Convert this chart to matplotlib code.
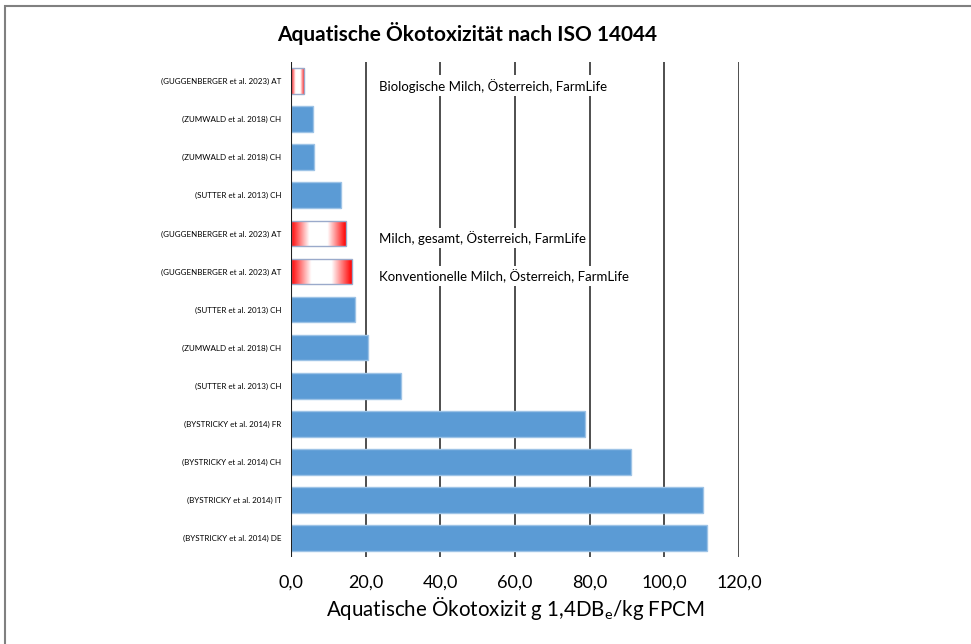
import matplotlib
matplotlib.use("Agg")
import matplotlib.pyplot as plt
import numpy as np
from matplotlib.colors import LinearSegmentedColormap
from matplotlib.patches import Rectangle

plt.rcParams['font.family'] = ['Lato', 'DejaVu Sans']

labels = [
    "(GUGGENBERGER et al. 2023) AT",
    "(ZUMWALD et al. 2018) CH",
    "(ZUMWALD et al. 2018) CH",
    "(SUTTER et al. 2013) CH",
    "(GUGGENBERGER et al. 2023) AT",
    "(GUGGENBERGER et al. 2023) AT",
    "(SUTTER et al. 2013) CH",
    "(ZUMWALD et al. 2018) CH",
    "(SUTTER et al. 2013) CH",
    "(BYSTRICKY et al. 2014) FR",
    "(BYSTRICKY et al. 2014) CH",
    "(BYSTRICKY et al. 2014) IT",
    "(BYSTRICKY et al. 2014) DE",
]
values = [3.5, 5.9, 6.2, 13.5, 14.7, 16.3, 17.1, 20.7, 29.5, 78.8, 91.0, 110.3, 111.3]
highlight = [True, False, False, False, True, True, False, False, False, False, False, False, False]
annotations = [
    (0, "Biologische Milch, Österreich, FarmLife"),
    (4, "Milch, gesamt, Österreich, FarmLife"),
    (5, "Konventionelle Milch, Österreich, FarmLife"),
]
xticks = [0, 20, 40, 60, 80, 100, 120]
xticklabels = ["0,0", "20,0", "40,0", "60,0", "80,0", "100,0", "120,0"]

fig = plt.figure(figsize=(9.71, 6.44), dpi=100)
ax = fig.add_axes([0.2997, 0.135, 0.4614, 0.7687])

# figure frame (left/top visible)
fig.patches.append(Rectangle((5/971, -0.1), 1.2, 1.1 - 6/644,
                             transform=fig.transFigure, fill=False,
                             edgecolor='#808080', lw=1.5))

n = len(values)
ypos = np.arange(n)
bh = 0.675
cmap = LinearSegmentedColormap.from_list('rw', ['#FF0000', '#FFFFFF', '#FFFFFF', '#FF0000'])
grad = np.linspace(0, 1, 256).reshape(1, -1)
for y, v, h in zip(ypos, values, highlight):
    if h:
        r = Rectangle((0, y - bh/2), v, bh, facecolor='none', edgecolor='#9AAACB', lw=1.0, zorder=3)
        ax.add_patch(r)
        im = ax.imshow(grad, cmap=cmap, aspect='auto',
                       extent=(0, v, y + bh/2, y - bh/2), zorder=2)
        im.set_clip_path(r)
    else:
        ax.barh(y, v, height=bh, color='#5B9BD5', edgecolor='#9DC3E6', lw=1.0, zorder=2)

ax.set_xlim(0, 120)
ax.set_ylim(n - 0.5, -0.5)
ax.set_aspect('auto')

for xv in xticks[1:]:
    ax.axvline(xv, color='#404040', lw=1.3, zorder=1)
ax.axvline(0, color='#202020', lw=1.5, zorder=4)

for s in ax.spines.values():
    s.set_visible(False)
ax.set_xticks(xticks)
ax.set_xticklabels(xticklabels, fontsize=13)
ax.set_yticks(ypos)
ax.set_yticklabels(labels, fontsize=5.8)
ax.tick_params(axis='both', length=0)
ax.tick_params(axis='x', pad=13)
ax.tick_params(axis='y', pad=7)

ax.set_xlabel("Aquatische Ökotoxizit g 1,4DB$_\\mathregular{e}$/kg FPCM", fontsize=14.8, labelpad=3)

for idx, txt in annotations:
    ax.text(23.5, idx + 0.12, txt, fontsize=9.5, va='center', ha='left', zorder=5,
            bbox=dict(facecolor='white', edgecolor='none', pad=2.5))

fig.text(0.481, 0.948, "Aquatische Ökotoxizität nach ISO 14044", fontsize=15,
         fontweight='bold', ha='center', va='center')

fig.savefig("out.png", dpi=100)
